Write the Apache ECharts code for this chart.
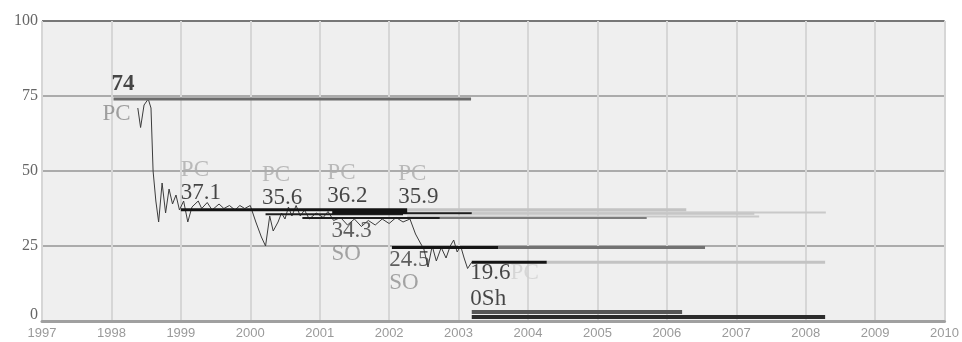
<!DOCTYPE html>
<html>
<head>
<meta charset="utf-8">
<script src="https://cdn.jsdelivr.net/npm/echarts@6/dist/echarts.min.js"></script>
<style>
  html, body { margin: 0; padding: 0; background: #ffffff; }
  #chart { width: 962px; height: 342px; }
</style>
</head>
<body>
<div id="chart"></div>
<script>
// ---- price history (decimal year, price) ----
const priceYears = [
  1998.38, 1998.42, 1998.47, 1998.53, 1998.57, 1998.60, 1998.64, 1998.68, 1998.73, 1998.78,
  1998.83, 1998.88, 1998.93, 1998.98, 1999.04, 1999.10, 1999.16, 1999.25, 1999.30, 1999.38,
  1999.45, 1999.55, 1999.62, 1999.70, 1999.78, 1999.85, 1999.92, 2000.00, 2000.08, 2000.16,
  2000.22, 2000.28, 2000.33, 2000.40, 2000.45, 2000.50, 2000.55, 2000.60, 2000.66, 2000.72,
  2000.78, 2000.85, 2000.95, 2001.05, 2001.12, 2001.20, 2001.30, 2001.40, 2001.50, 2001.60,
  2001.70, 2001.80, 2001.90, 2002.00, 2002.10, 2002.20, 2002.30, 2002.38, 2002.45, 2002.50,
  2002.56, 2002.62, 2002.68, 2002.75, 2002.82, 2002.88, 2002.93, 2002.98, 2003.03, 2003.08,
  2003.13, 2003.19
];
const priceValues = [
  71, 64.5, 72, 74, 71, 50, 40, 33, 46, 36,
  44, 39, 42, 37, 40, 33, 38, 40, 37.5, 39.5,
  37, 39, 37.5, 38.5, 37, 38.5, 37.5, 38.5, 33, 28,
  25, 35, 30, 33, 36, 34, 38, 35, 38.5, 35,
  37, 34, 36, 34.5, 36.5, 33.5, 34.5, 32, 34, 31.5,
  33.5, 32, 34, 32.5, 34.5, 33, 34, 29, 26, 24,
  18, 25, 20, 24.5, 21, 25, 27, 23, 25, 21,
  17.5, 19.6
];

// ---- price levels held over time (from year, to year, level, kind) ----
const levelFrom  = [1998.03, 1999.00, 2002.26, 2001.18, 2002.26, 2002.16, 2003.19, 2000.22, 2002.26, 2000.75, 2002.73, 2002.04, 2003.57, 2003.19, 2004.27, 2003.19, 2003.19];
const levelTo    = [2003.18, 2002.26, 2006.28, 2002.26, 2008.29, 2003.19, 2007.26, 2002.20, 2007.33, 2002.73, 2005.71, 2003.57, 2006.55, 2004.27, 2008.28, 2006.22, 2008.28];
const levelValue = [74,      37.1,    37.1,    36.2,    36.2,    35.9,    35.9,    35.6,    34.8,    34.3,    34.3,    24.5,    24.5,    19.6,    19.6,    3,       1.3];
const levelKind  = ['peak', 'held', 'faded', 'held', 'fadedThin', 'heldThin', 'faded', 'heldThin', 'fadedThin', 'heldThin', 'dimThin', 'held', 'dim', 'held', 'faded', 'base', 'baseDark'];

// ---- annotations ----
const noteYear  = [1998.00, 1999.00, 2000.17, 2001.11, 2002.13, 2001.17, 2002.00, 2003.17, 2003.17];
const noteValue = [74, 37.1, 35.6, 36.2, 35.9, 34.3, 24.5, 19.6, 3];
const noteText  = ['74', '37.1', '35.6', '36.2', '35.9', '34.3', '24.5', '19.6', '0Sh'];
const noteTag   = ['PC', 'PC', 'PC', 'PC', 'PC', 'SO', 'SO', 'PC', ''];
const notePlace = ['split', 'above', 'above', 'above', 'above', 'below', 'below', 'beside', 'above'];

// ---- axes ----
const yearMin = 1997, yearMax = 2010;
const valueMin = 0, valueMax = 100, valueStep = 25;

// ---- styling ----
const SERIF = '"Liberation Serif", "DejaVu Serif", serif';
const kindStyle = {
  peak:      { color: '#6b6b6b', width: 3 },
  held:      { color: '#141414', width: 3 },
  heldThin:  { color: '#1e1e1e', width: 2 },
  faded:     { color: '#c3c3c3', width: 3 },
  fadedThin: { color: '#c9c9c9', width: 2 },
  dim:       { color: '#727272', width: 3 },
  dimThin:   { color: '#7c7c7c', width: 2 },
  base:      { color: '#575757', width: 4 },
  baseDark:  { color: '#2c2c2c', width: 4 }
};
const drawOrder = ['faded', 'fadedThin', 'dim', 'dimThin', 'peak', 'base', 'baseDark', 'heldThin', 'held'];

const rich = {
  v:  { fontFamily: SERIF, fontSize: 23, lineHeight: 23, color: '#1a1a1a' },
  vb: { fontFamily: SERIF, fontSize: 23, lineHeight: 23, color: '#1a1a1a', fontWeight: 'bold' },
  vs: { fontFamily: SERIF, fontSize: 23, lineHeight: 23, color: '#3a3a3a' },
  pc: { fontFamily: SERIF, fontSize: 23, lineHeight: 23, color: '#ababab' },
  pd: { fontFamily: SERIF, fontSize: 23, lineHeight: 23, color: '#8a8a8a' },
  pl: { fontFamily: SERIF, fontSize: 23, lineHeight: 23, color: '#cfcfcf' },
  so: { fontFamily: SERIF, fontSize: 23, lineHeight: 23, color: '#8e8e8e' }
};

function noteItems(i) {
  const at = [noteYear[i], noteValue[i]];
  const base = { align: 'left', rich: rich, show: true };
  const place = notePlace[i];
  if (place === 'split') {
    return [
      { value: at, label: Object.assign({}, base, { position: 'top', distance: 3, formatter: '{vb|' + noteText[i] + '}' }) },
      { value: at, label: Object.assign({}, base, { position: 'bottom', distance: 3, offset: [-9, 0], formatter: '{pd|' + noteTag[i] + '}' }) }
    ];
  }
  if (place === 'above') {
    const txt = noteTag[i] ? '{pc|' + noteTag[i] + '}\n{v|' + noteText[i] + '}' : '{v|' + noteText[i] + '}';
    return [{ value: at, label: Object.assign({}, base, { position: 'top', distance: noteTag[i] ? 5 : 2, formatter: txt }) }];
  }
  if (place === 'below') {
    return [{ value: at, label: Object.assign({}, base, { position: 'bottom', distance: 1, formatter: '{vs|' + noteText[i] + '}\n{so|' + noteTag[i] + '}' }) }];
  }
  // beside: number below the level with the tag right after it
  return [{ value: at, label: Object.assign({}, base, { position: 'bottom', distance: -1, formatter: '{v|' + noteText[i] + '}{pl|' + noteTag[i] + '}' }) }];
}

const levelSeries = levelFrom
  .map((from, i) => ({ i, order: drawOrder.indexOf(levelKind[i]) }))
  .sort((a, b) => a.order - b.order)
  .map(({ i, order }) => ({
    type: 'line',
    data: [[levelFrom[i], levelValue[i]], [levelTo[i], levelValue[i]]],
    symbol: 'none',
    silent: true,
    z: 3 + (order >= drawOrder.indexOf('peak') ? 2 : 0),
    lineStyle: { color: kindStyle[levelKind[i]].color, width: kindStyle[levelKind[i]].width, cap: 'butt' }
  }));

const priceSeries = {
  type: 'line',
  data: priceYears.map((y, i) => [y, priceValues[i]]),
  symbol: 'none',
  silent: true,
  z: 4,
  lineStyle: { color: '#3c3c3c', width: 1 }
};

let noteData = [];
noteText.forEach((t, i) => { noteData = noteData.concat(noteItems(i)); });

const noteSeries = {
  type: 'scatter',
  data: noteData,
  symbolSize: 0,
  silent: true,
  z: 10
};

const option = {
  animation: false,
  backgroundColor: '#ffffff',
  grid: {
    left: 42, right: 16, top: 21, bottom: 21,
    show: true, backgroundColor: '#efefef', borderColor: '#bdbdbd', borderWidth: 1
  },
  xAxis: {
    type: 'value', min: yearMin, max: yearMax, interval: 1,
    axisLine: { show: true, onZero: false, lineStyle: { color: '#a0a0a0', width: 3 } },
    axisTick: { show: false },
    axisLabel: { color: '#9a9a9a', fontSize: 13, margin: 6, fontFamily: '"Liberation Sans", sans-serif', formatter: v => String(v) },
    splitLine: { show: true, lineStyle: { color: '#d6d6d6', width: 2 } }
  },
  yAxis: {
    type: 'value', min: valueMin, max: valueMax, interval: valueStep,
    axisLine: { show: false },
    axisTick: { show: false },
    axisLabel: {
      color: '#666666', fontSize: 16, margin: 4, fontFamily: SERIF,
      formatter: v => (v === 0 ? '{z|0}' : String(v)),
      rich: { z: { fontSize: 16, fontFamily: SERIF, color: '#666666', padding: [0, 0, 12, 0] } }
    },
    splitLine: { show: true, lineStyle: { color: ['#a0a0a0', '#ababab', '#ababab', '#ababab', '#777777'], width: 2 } }
  },
  series: levelSeries.concat([priceSeries, noteSeries])
};

const chart = echarts.init(document.getElementById('chart'), null, { renderer: 'canvas' });
chart.setOption(option);
</script>
</body>
</html>
